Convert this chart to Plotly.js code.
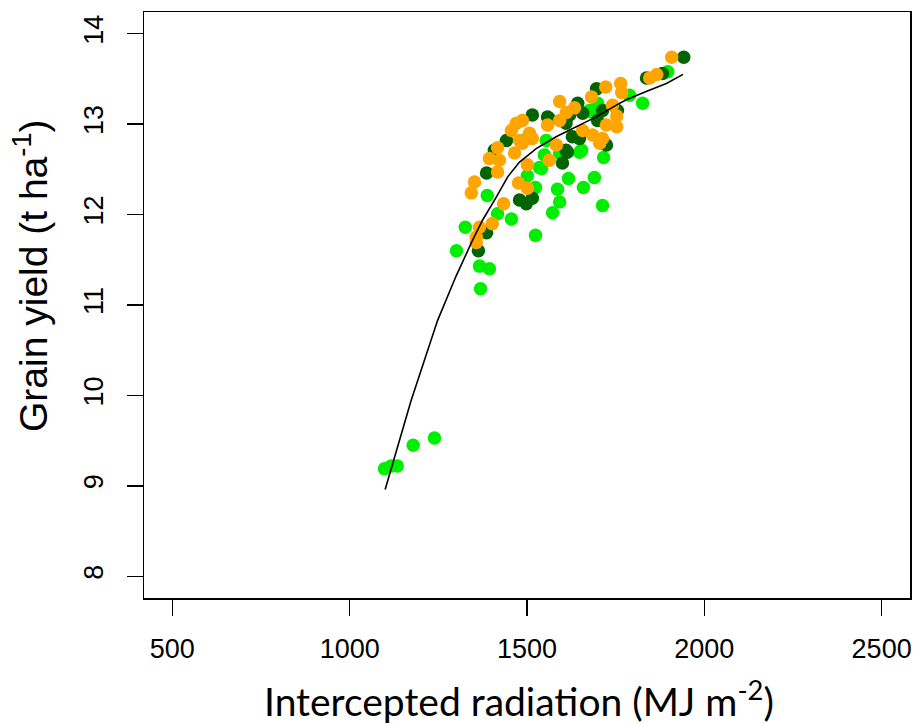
<!DOCTYPE html>
<html>
<head>
<meta charset="utf-8">
<script src="https://cdn.plot.ly/plotly-3.0.1.min.js"></script>
<style>html,body{margin:0;padding:0;background:#fff}#chart{width:920px;height:724px}</style>
</head>
<body>
<div id="chart"></div>
<script>
// Bright green series
const brightX = [1897,1789,1826,1685,1699,1676,1654,1716,1617,1690,1659,1586,1592,1572,1713,1524,1541,1549,1554,1487,1592,1535,1501,1388,1417,1456,1326,1524,1301,1366,1394,1369,1648,1098,1117,1134,1179,1239];
const brightY = [13.58,13.32,13.23,13.13,13.23,13.15,12.71,12.63,12.40,12.41,12.30,12.28,12.14,12.02,12.10,12.30,12.51,12.66,12.82,12.82,12.68,12.52,12.43,12.21,12.01,11.95,11.86,11.77,11.60,11.43,11.40,11.18,12.69,9.19,9.22,9.22,9.45,9.53];
// Dark green series
const darkX = [1942,1837,1882,1696,1643,1515,1713,1755,1628,1648,1713,1614,1600,1442,1408,1386,1479,1498,1515,1363,1386,1563,1558,1620,1610,1699,1657,1724,1610];
const darkY = [13.74,13.51,13.56,13.39,13.23,13.10,13.15,13.15,12.86,12.84,12.79,12.69,12.57,12.82,12.71,12.46,12.16,12.12,12.18,11.60,11.80,13.06,13.08,13.10,13.01,13.04,13.12,12.77,12.71];
// Orange series
const orangeX = [1908,1866,1846,1764,1767,1722,1682,1592,1611,1634,1741,1753,1592,1558,1487,1456,1507,1515,1479,1724,1753,1657,1685,1713,1705,1583,1417,1465,1394,1422,1501,1563,1417,1352,1343,1476,1501,1434,1402,1366,1357,1357,1470,1487];
const orangeY = [13.74,13.55,13.51,13.45,13.35,13.41,13.30,13.25,13.13,13.18,13.21,13.09,13.04,12.99,13.04,12.93,12.90,12.84,12.82,12.99,12.97,12.93,12.88,12.84,12.79,12.77,12.74,12.68,12.62,12.60,12.55,12.60,12.47,12.36,12.24,12.35,12.29,12.12,11.90,11.86,11.75,11.69,13.01,12.79];
// Fitted curve
const fitX = [1100,1173,1248,1300,1347,1375,1413,1446,1479,1526,1582,1639,1695,1752,1780,1836,1893,1940];
const fitY = [8.96,9.94,10.83,11.32,11.72,11.94,12.19,12.42,12.58,12.73,12.86,12.97,13.08,13.21,13.27,13.36,13.45,13.55];
const xTicks = [500,1000,1500,2000,2500];
const yTicks = [8,9,10,11,12,13,14];

const mk = (c) => ({size: 13.5, color: c, line: {width: 0}});
const data = [
  {x: brightX, y: brightY, type: 'scatter', mode: 'markers', marker: mk('#00EE00'), hoverinfo: 'skip'},
  {x: darkX, y: darkY, type: 'scatter', mode: 'markers', marker: mk('#006400'), hoverinfo: 'skip'},
  {x: orangeX, y: orangeY, type: 'scatter', mode: 'markers', marker: mk('#FFA500'), hoverinfo: 'skip'},
  {x: fitX, y: fitY, type: 'scatter', mode: 'lines', line: {color: '#000', width: 1.6}, hoverinfo: 'skip'}
];
const tickFont = {family: 'Liberation Sans, Arial, sans-serif', size: 27, color: '#000'};
const layout = {
  width: 920, height: 724,
  margin: {l: 144, r: 10, t: 12, b: 126},
  paper_bgcolor: '#fff', plot_bgcolor: '#fff',
  showlegend: false,
  xaxis: {
    range: [420, 2580], tickvals: xTicks, ticktext: xTicks.map(String),
    ticks: 'outside', ticklen: 16, tickwidth: 1.5, tickcolor: '#000', ticklabelstandoff: 10,
    showline: true, mirror: true, linecolor: '#000', linewidth: 1.5,
    showgrid: false, zeroline: false, tickfont: tickFont
  },
  yaxis: {
    range: [7.76, 14.24], tickvals: yTicks, ticktext: yTicks.map(String),
    ticks: 'outside', ticklen: 16, tickwidth: 1.5, tickcolor: '#000', tickangle: -90, ticklabelstandoff: 13,
    showline: true, mirror: true, linecolor: '#000', linewidth: 1.5,
    showgrid: false, zeroline: false, tickfont: tickFont
  },
  annotations: [
    {text: 'Intercepted radiation (MJ m<sup>-2</sup>)', xref: 'paper', yref: 'paper',
     x: 0.49, y: -0.171, xanchor: 'center', yanchor: 'middle', showarrow: false,
     font: {family: 'Lato, sans-serif', size: 39, color: '#000'}},
    {text: 'Grain yield (t ha<sup>-1</sup>)', xref: 'paper', yref: 'paper',
     x: -0.149, y: 0.551, xanchor: 'center', yanchor: 'middle', textangle: -90, showarrow: false,
     font: {family: 'Liberation Sans, Arial, sans-serif', size: 39, color: '#000'}}
  ]
};
Plotly.newPlot('chart', data, layout, {displayModeBar: false, staticPlot: true});
</script>
</body>
</html>
